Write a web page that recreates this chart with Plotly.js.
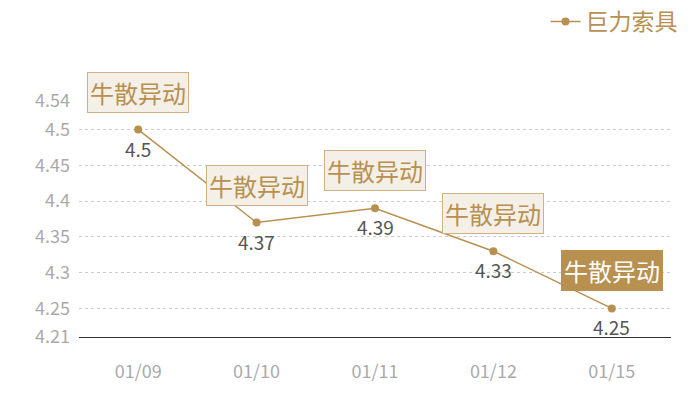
<!DOCTYPE html>
<html>
<head>
<meta charset="utf-8">
<script src="https://cdn.plot.ly/plotly-3.0.1.min.js"></script>
<style>body{margin:0;} #chart{width:700px;height:400px;}</style>
</head>
<body>
<div id="chart"></div>
<script>
// dates and close values
var dates = ["01/09", "01/10", "01/11", "01/12", "01/15"];
var prices = [4.5, 4.37, 4.39, 4.33, 4.25];
var seriesName = "巨力索具";
var eventLabel = "牛散异动";
var yTicks = [4.21, 4.25, 4.3, 4.35, 4.4, 4.45, 4.5, 4.54];

var gold = "#b89050";
var font = "Noto Sans CJK SC, sans-serif";

var trace = {
  x: dates,
  y: prices,
  name: seriesName,
  type: 'scatter',
  mode: 'lines+markers',
  line: {color: gold, width: 1.5},
  marker: {color: gold, size: 8},
  hoverinfo: 'x+y'
};

var annots = [];
dates.forEach((d, i) => {
  var last = (i === dates.length - 1);
  // event box above each point, last one highlighted
  annots.push({
    x: d,
    y: prices[i],
    text: eventLabel,
    showarrow: false,
    yanchor: 'bottom',
    yshift: 17,
    font: {family: font, size: 24, color: last ? "#fff" : gold},
    bgcolor: last ? gold : "#f4efe7",
    bordercolor: last ? gold : "#cfb186",
    borderwidth: 1,
    borderpad: 2
  });
  // value label under the point
  annots.push({
    x: d,
    y: prices[i],
    text: String(prices[i]),
    showarrow: false,
    yanchor: 'top',
    yshift: -3,
    font: {family: font, size: 19, color: "#555"}
  });
});

var layout = {
  width: 700,
  height: 400,
  margin: {l: 79, r: 29, t: 101, b: 63, autoexpand: false},
  paper_bgcolor: "#fff",
  plot_bgcolor: "#fff",
  font: {family: font},
  showlegend: true,
  legend: {
    xref: 'container', yref: 'container',
    x: 0.975, xanchor: 'right', y: 1.0, yanchor: 'top',
    font: {size: 23, color: gold, family: font},
    bgcolor: 'rgba(0,0,0,0)'
  },
  xaxis: {
    type: 'category',
    range: [-0.5, 4.5],
    showgrid: false,
    zeroline: false,
    showline: true,
    linecolor: "#333",
    linewidth: 1,
    ticks: '',
    ticklabelstandoff: 18,
    tickfont: {size: 18, color: "#aaa", family: font}
  },
  yaxis: {
    range: [4.21, 4.54],
    tickmode: 'array',
    tickvals: yTicks,
    ticktext: yTicks.map(String),
    showgrid: true,
    gridcolor: "#ccc",
    griddash: 'dot',
    zeroline: false,
    showline: false,
    ticks: '',
    ticklabelstandoff: 8,
    tickfont: {size: 18, color: "#aaa", family: font}
  },
  annotations: annots
};

Plotly.newPlot('chart', [trace], layout, {displayModeBar: false});
</script>
</body>
</html>
